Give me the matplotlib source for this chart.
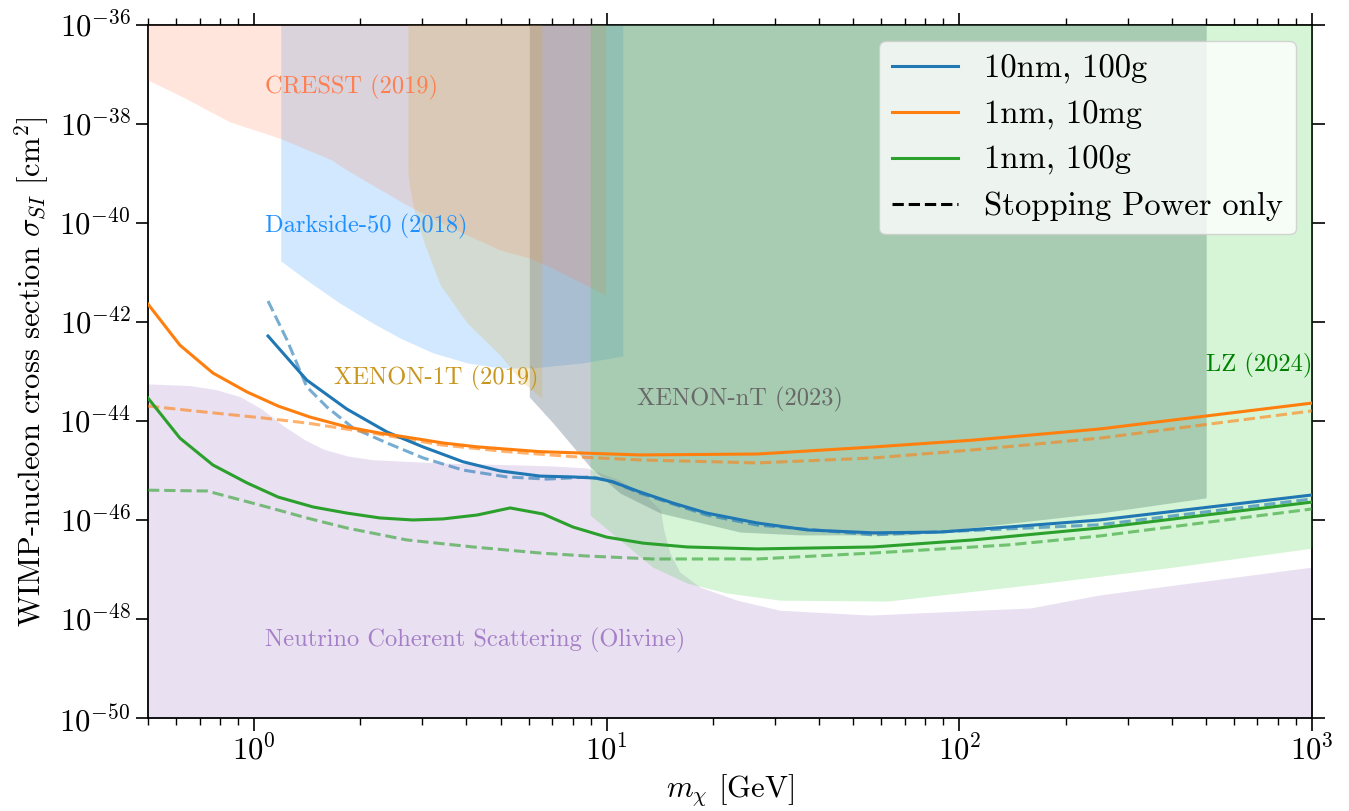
import matplotlib
matplotlib.use("Agg")
import matplotlib.pyplot as plt
from matplotlib.lines import Line2D
from matplotlib.ticker import LogLocator, NullLocator, FixedLocator

plt.rcParams['font.family'] = 'serif'
plt.rcParams['font.serif'] = ['cmr10']
plt.rcParams['mathtext.fontset'] = 'cm'
plt.rcParams['axes.formatter.use_mathtext'] = True
plt.rcParams['axes.unicode_minus'] = True

# ---------------- data ----------------
# 1nm, 10mg (orange)
orange_m = [0.5, 0.616, 0.764, 0.955, 1.17, 1.44, 1.83, 2.27, 2.82, 3.43, 4.29, 6.47, 12.4, 26.7, 56.9, 109, 250, 1000]
orange_s = [2.3e-42, 3.4e-43, 9.3e-44, 3.85e-44, 2.0e-44, 1.2e-44, 7.6e-45, 5.7e-45, 4.5e-45, 3.6e-45, 3.0e-45,
            2.4e-45, 2.06e-45, 2.15e-45, 2.98e-45, 4.1e-45, 6.9e-45, 2.3e-44]
orange_sp_m = [0.5, 0.735, 1.06, 1.41, 2.17, 3.37, 5.21, 8.02, 12.4, 20.9, 26.7, 56.9, 109, 250, 1000]
orange_sp_s = [2.0e-44, 1.5e-44, 1.15e-44, 9.1e-45, 5.7e-45, 3.3e-45, 2.4e-45, 1.9e-45, 1.63e-45, 1.49e-45,
               1.42e-45, 1.79e-45, 2.6e-45, 4.5e-45, 1.6e-44]

# 10nm, 100g (blue)
blue_m = [1.095, 1.41, 1.83, 2.38, 3.01, 3.91, 4.98, 6.47, 8.02, 9.38, 10.4, 12.4, 15.4, 19.2, 26.7, 37.0,
          56.9, 88.2, 137, 250, 1000]
blue_s = [5.2e-43, 6.7e-44, 1.75e-44, 6.0e-45, 3.0e-45, 1.5e-45, 9.8e-46, 7.7e-46, 7.4e-46, 7.0e-46, 5.9e-46,
          3.7e-46, 2.2e-46, 1.38e-46, 8.7e-47, 6.3e-47, 5.5e-47, 5.7e-47, 7.2e-47, 1.0e-46, 3.2e-46]
blue_sp_m = [1.095, 1.24, 1.41, 1.61, 1.91, 2.38, 3.01, 3.91, 5.21, 6.77, 8.97, 10.4, 12.4, 19.2, 26.7, 56.9,
             137, 250, 1000]
blue_sp_s = [2.65e-42, 4.3e-43, 4.9e-44, 1.9e-44, 7.2e-45, 3.6e-45, 1.8e-45, 1.02e-45, 7.4e-46, 6.7e-46,
             7.4e-46, 5.9e-46, 3.5e-46, 1.26e-46, 7.9e-47, 5.0e-47, 6.6e-47, 8.0e-47, 2.66e-46]

# 1nm, 100g (green)
green_m = [0.5, 0.616, 0.764, 0.955, 1.17, 1.47, 1.83, 2.27, 2.82, 3.43, 4.29, 5.32, 6.60, 8.02, 10.0, 12.7,
           16.9, 26.7, 56.9, 109, 250, 1000]
green_s = [2.9e-44, 4.5e-45, 1.29e-45, 5.6e-46, 2.9e-46, 1.83e-46, 1.38e-46, 1.10e-46, 1.0e-46, 1.05e-46,
           1.26e-46, 1.75e-46, 1.32e-46, 7.2e-47, 4.5e-47, 3.4e-47, 2.85e-47, 2.6e-47, 2.85e-47, 3.95e-47,
           6.9e-47, 2.3e-46]
green_sp_m = [0.5, 0.735, 1.088, 1.41, 1.83, 2.71, 4.18, 6.47, 8.79, 13.5, 26.7, 56.9, 137, 250, 1000]
green_sp_s = [4.0e-46, 3.85e-46, 1.83e-46, 1.10e-46, 6.9e-47, 3.95e-47, 2.85e-47, 2.15e-47, 1.87e-47,
              1.63e-47, 1.63e-47, 2.15e-47, 3.13e-47, 4.75e-47, 1.67e-46]

# Excluded regions (lower boundaries)
nu_m = [0.5, 0.658, 0.78, 0.912, 1.05, 1.21, 1.39, 1.57, 1.85, 2.17, 3.37, 5.68, 7.04, 8.79, 10.9, 13.0, 14.2,
        14.5, 15.1, 16.1, 18.4, 23.4, 31.0, 55.8, 159, 250, 1000]
nu_s = [5.6e-44, 5.2e-44, 4.3e-44, 3.1e-44, 1.75e-44, 8.0e-45, 4.2e-45, 2.7e-45, 1.95e-45, 1.65e-45, 1.42e-45,
        1.29e-45, 1.23e-45, 1.12e-45, 6.4e-46, 2.9e-46, 1.59e-46, 6.3e-47, 2.15e-47, 8.9e-48, 4.4e-48,
        2.4e-48, 1.5e-48, 1.2e-48, 1.67e-48, 3.06e-48, 1.12e-47]

cresst_m = [0.5, 0.628, 0.854, 1.18, 1.66, 1.83, 2.71, 3.59, 4.98, 6.03, 6.90, 9.93]
cresst_s = [7.7e-38, 3.5e-38, 1.1e-38, 5.2e-39, 1.87e-39, 1.18e-39, 2.3e-40, 8.3e-41, 2.85e-41, 1.96e-41,
            1.29e-41, 3.5e-42]

darkside_m = [1.19, 1.41, 1.75, 2.17, 2.59, 3.22, 4.02, 4.98, 6.18, 8.56, 11.1]
darkside_s = [1.71e-41, 7.0e-42, 2.4e-42, 9.5e-43, 4.75e-43, 2.37e-43, 1.49e-43, 1.18e-43, 1.18e-43,
              1.49e-43, 2.06e-43]

xenon1t_m = [2.73, 2.77, 2.86, 3.05, 3.37, 4.02, 4.98, 5.68, 6.54]
xenon1t_s = [1.02e-39, 4.6e-40, 1.45e-40, 3.6e-41, 5.6e-42, 9.5e-43, 2.15e-43, 6.7e-44, 2.9e-44]

xenonnt_m = [6.03, 7.04, 8.97, 10.9, 14.2, 23.9, 35.3, 71.1, 250, 501]
xenonnt_s = [3.06e-44, 9.1e-45, 1.18e-45, 3.5e-46, 1.38e-46, 5.7e-47, 5.0e-47, 5.0e-47, 1.38e-46, 2.8e-46]

lz_m = [8.97, 10.9, 13.5, 16.9, 21.9, 31.0, 62.4, 159, 406, 1000]
lz_s = [1.26e-46, 3.95e-47, 1.12e-47, 5.3e-48, 3.35e-48, 2.4e-48, 2.3e-48, 4.9e-48, 1.12e-47, 2.7e-47]

XLIM = (0.5, 1000)
YLIM = (1e-50, 1e-36)

# ---------------- figure ----------------
fig = plt.figure(figsize=(13.49, 8.11), dpi=100)
ax = fig.add_axes([0.1097, 0.1147, 0.8629, 0.8545])
ax.set_xscale('log')
ax.set_yscale('log')

ax.fill_between(nu_m, nu_s, YLIM[0], color='tab:purple', alpha=0.2, lw=0, zorder=1)
ax.fill_between(darkside_m, darkside_s, YLIM[1], color='dodgerblue', alpha=0.2, lw=0, zorder=2)
ax.fill_between(xenonnt_m, xenonnt_s, YLIM[1], color='slategray', alpha=0.4, lw=0, zorder=3)
ax.fill_between(cresst_m, cresst_s, YLIM[1], color='coral', alpha=0.2, lw=0, zorder=4)
ax.fill_between(xenon1t_m, xenon1t_s, YLIM[1], color='goldenrod', alpha=0.2, lw=0, zorder=5)
ax.fill_between(lz_m, lz_s, YLIM[1], color='limegreen', alpha=0.2, lw=0, zorder=6)

lw = 2.2
ax.plot(blue_m, blue_s, color='tab:blue', lw=lw, zorder=10)
ax.plot(orange_m, orange_s, color='tab:orange', lw=lw, zorder=10)
ax.plot(green_m, green_s, color='tab:green', lw=lw, zorder=10)
ax.plot(blue_sp_m, blue_sp_s, color='tab:blue', lw=lw, ls='--', alpha=0.6, zorder=9)
ax.plot(orange_sp_m, orange_sp_s, color='tab:orange', lw=lw, ls='--', alpha=0.6, zorder=9)
ax.plot(green_sp_m, green_sp_s, color='tab:green', lw=lw, ls='--', alpha=0.6, zorder=9)

fs_lab = 17.6
ax.text(1.07, 5.4e-38, 'CRESST (2019)', color='coral', fontsize=fs_lab, va='center', zorder=12)
ax.text(1.07, 8.7e-41, 'Darkside-50 (2018)', color='dodgerblue', fontsize=fs_lab, va='center', zorder=12)
ax.text(1.69, 7.1e-44, 'XENON-1T (2019)', color='#c8961e', fontsize=fs_lab, va='center', zorder=12)
ax.text(12.2, 2.66e-44, 'XENON-nT (2023)', color='dimgray', fontsize=fs_lab, va='center', zorder=12)
ax.text(1000, 1.35e-43, 'LZ (2024)', color='green', fontsize=fs_lab, va='center', ha='right', zorder=12)
ax.text(1.07, 3.6e-49, 'Neutrino Coherent Scattering (Olivine)', color='tab:purple', alpha=0.8,
        fontsize=fs_lab, va='center', zorder=12)

ax.set_xlim(*XLIM)
ax.set_ylim(*YLIM)
ax.yaxis.set_major_locator(FixedLocator([10.0**e for e in range(-50, -35, 2)]))
ax.yaxis.set_minor_locator(NullLocator())
ax.xaxis.set_major_locator(LogLocator(base=10, numticks=10))
ax.xaxis.set_minor_locator(LogLocator(base=10, subs=range(2, 10), numticks=20))

ax.tick_params(which='both', direction='out', top=True, right=True, labelsize=22)
ax.tick_params(which='major', length=9, width=1.2)
ax.tick_params(which='minor', length=5, width=1.0)
for sp in ax.spines.values():
    sp.set_linewidth(1.3)

ax.set_xlabel(r'$m_\chi$ [GeV]', fontsize=22, labelpad=4)
ax.set_ylabel(r'WIMP-nucleon cross section $\sigma_{SI}$ [cm$^2$]', fontsize=22, labelpad=6)

handles = [Line2D([], [], color='tab:blue', lw=lw),
           Line2D([], [], color='tab:orange', lw=lw),
           Line2D([], [], color='tab:green', lw=lw),
           Line2D([], [], color='black', lw=lw, ls='--')]
labels = ['10nm, 100g', '1nm, 10mg', '1nm, 100g', 'Stopping Power only']
leg = ax.legend(handles, labels, loc='upper right', fontsize=23.5, framealpha=0.8, handlelength=2.0)
leg.set_zorder(20)

fig.savefig('out.png', dpi=100)
